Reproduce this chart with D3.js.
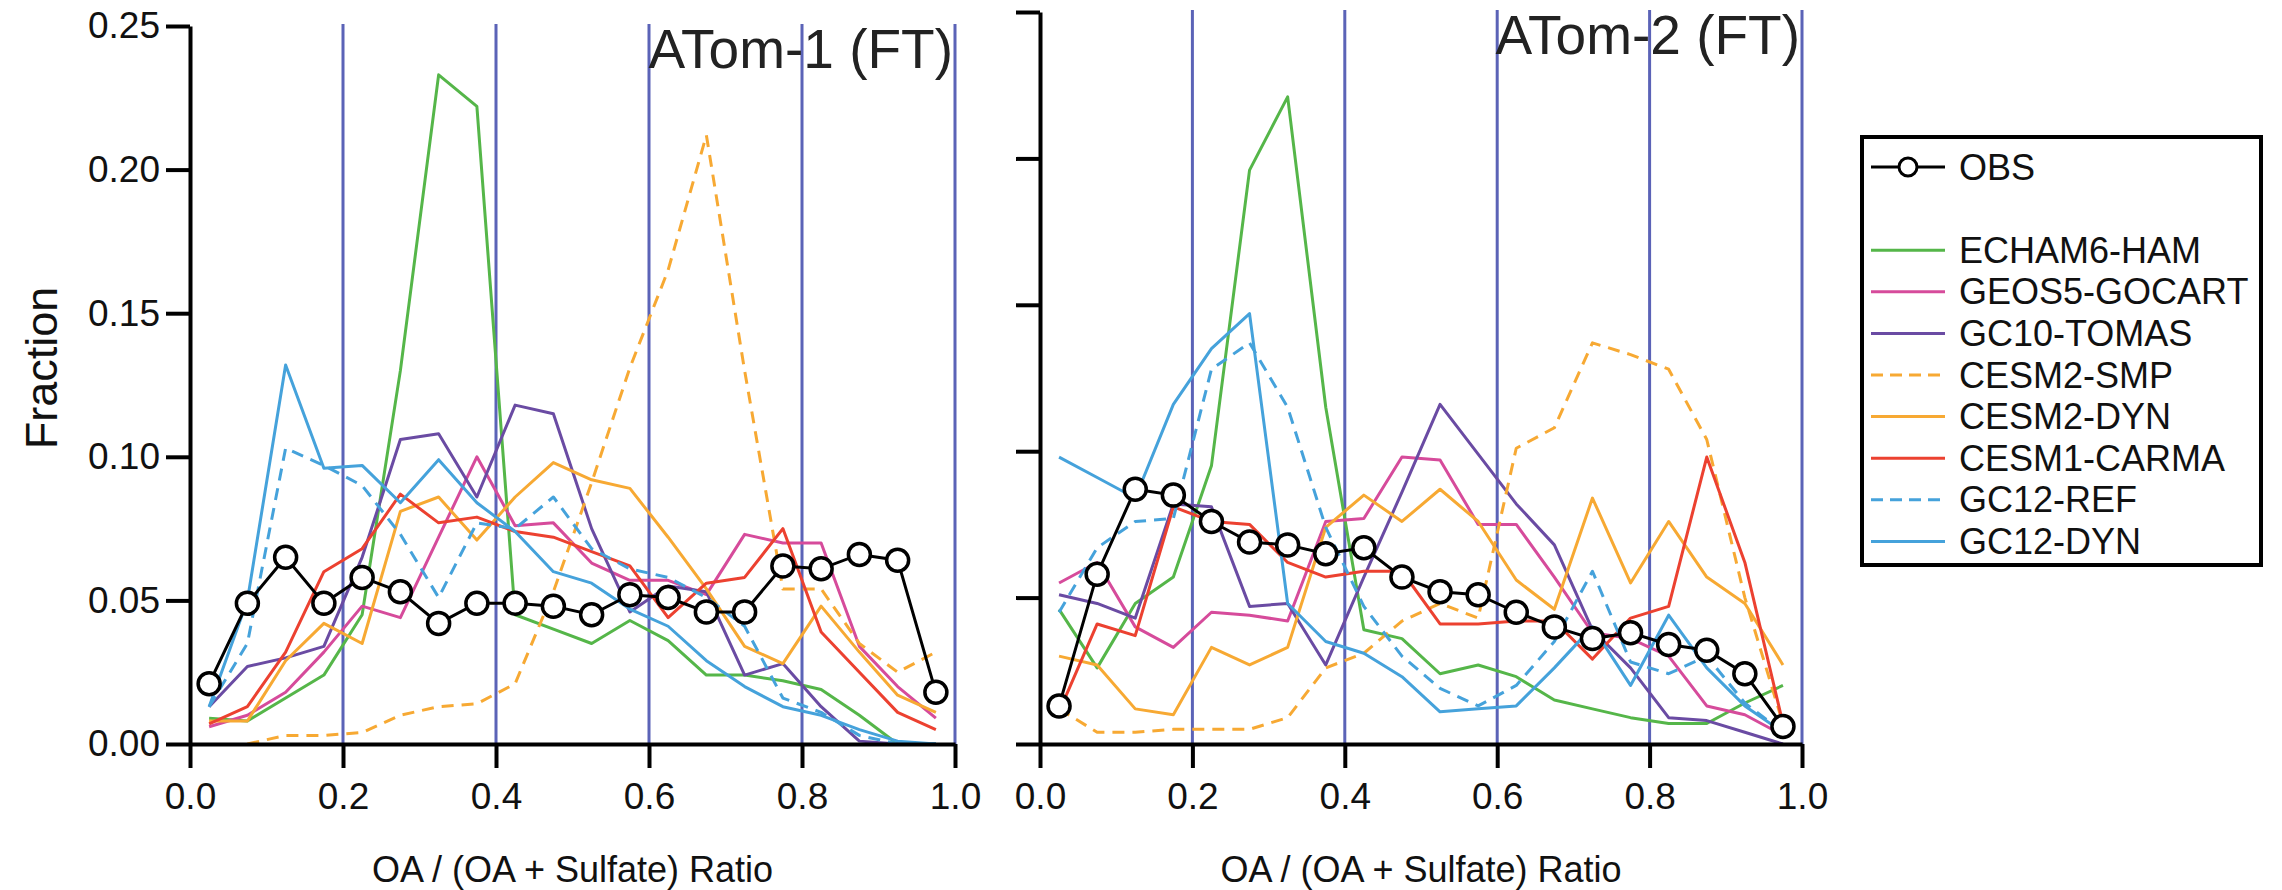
<!DOCTYPE html>
<html>
<head>
<meta charset="utf-8">
<script src="https://cdn.jsdelivr.net/npm/d3@7"></script>
<style>
  body { margin: 0; background: #fff; }
  svg { display: block; font-family: "Liberation Sans", Arial, sans-serif; }
</style>
</head>
<body>
<div id="chart"></div>
<script>
// bin centres of the OA / (OA + sulfate) ratio
const bins = [0.025, 0.075, 0.125, 0.175, 0.225, 0.275, 0.325, 0.375, 0.425, 0.475,
  0.525, 0.575, 0.625, 0.675, 0.725, 0.775, 0.825, 0.875, 0.925, 0.975];

const xTicks = [0, 0.2, 0.4, 0.6, 0.8, 1.0];
const yTicks = [0, 0.05, 0.1, 0.15, 0.2, 0.25];
const gridX = [0.2, 0.4, 0.6, 0.8, 1.0];

const modelNames = ["ECHAM6-HAM", "GEOS5-GOCART", "GC10-TOMAS", "CESM2-SMP",
  "CESM2-DYN", "CESM1-CARMA", "GC12-REF", "GC12-DYN"];

// ATom-1 (FT)
const obs1 = [0.021, 0.049, 0.065, 0.049, 0.058, 0.053, 0.042, 0.049, 0.049, 0.048,
  0.045, 0.052, 0.051, 0.046, 0.046, 0.062, 0.061, 0.066, 0.064, 0.018];
const echam1 = [0.009, 0.008, 0.016, 0.024, 0.045, 0.13, 0.233, 0.222, 0.045, 0.040,
  0.035, 0.043, 0.036, 0.024, 0.024, 0.022, 0.019, 0.010, 0.0, 0.0];
const geos1 = [0.006, 0.010, 0.018, 0.032, 0.048, 0.044, 0.072, 0.100, 0.076, 0.077,
  0.063, 0.057, 0.057, 0.052, 0.073, 0.070, 0.070, 0.034, 0.020, 0.009];
const tomas1 = [0.013, 0.027, 0.030, 0.034, 0.065, 0.106, 0.108, 0.086, 0.118, 0.115,
  0.075, 0.046, 0.055, 0.053, 0.024, 0.028, 0.013, 0.001, 0.0, 0.0];
const smp1 = [null, 0.0, 0.003, 0.003, 0.004, 0.010, 0.013, 0.014, 0.021, 0.053,
  0.091, 0.131, 0.165, 0.212, 0.13, 0.054, 0.054, 0.035, 0.025, 0.032];
const cesmDyn1 = [0.008, 0.008, 0.029, 0.042, 0.035, 0.081, 0.086, 0.071, 0.086, 0.098,
  0.092, 0.089, 0.072, 0.054, 0.034, 0.028, 0.048, 0.032, 0.017, 0.011];
const carma1 = [0.007, 0.013, 0.032, 0.060, 0.068, 0.087, 0.077, 0.079, 0.074, 0.072,
  0.067, 0.062, 0.044, 0.056, 0.058, 0.075, 0.039, 0.025, 0.011, 0.005];
const gcRef1 = [0.013, 0.035, 0.103, 0.097, 0.090, 0.073, 0.051, 0.077, 0.075, 0.086,
  0.068, 0.061, 0.058, 0.051, 0.041, 0.016, 0.011, 0.003, 0.0, 0.0];
const gcDyn1 = [0.013, 0.050, 0.132, 0.096, 0.097, 0.084, 0.099, 0.084, 0.074, 0.060,
  0.056, 0.047, 0.041, 0.029, 0.020, 0.013, 0.010, 0.005, 0.001, 0.0];

// ATom-2 (FT)
const obs2 = [0.013, 0.058, 0.087, 0.085, 0.076, 0.069, 0.068, 0.065, 0.067, 0.057,
  0.052, 0.051, 0.045, 0.040, 0.036, 0.038, 0.034, 0.032, 0.024, 0.006];
const echam2 = [0.046, 0.026, 0.048, 0.057, 0.095, 0.196, 0.221, 0.115, 0.039, 0.036,
  0.024, 0.027, 0.023, 0.015, 0.012, 0.009, 0.007, 0.007, 0.014, 0.020];
const geos2 = [0.055, 0.062, 0.040, 0.033, 0.045, 0.044, 0.042, 0.076, 0.077, 0.098,
  0.097, 0.075, 0.075, 0.057, 0.038, 0.036, 0.030, 0.013, 0.010, 0.003];
const tomas2 = [0.051, 0.048, 0.043, 0.082, 0.081, 0.047, 0.048, 0.027, 0.057, 0.086,
  0.116, 0.099, 0.082, 0.068, 0.039, 0.026, 0.009, 0.008, 0.004, 0.0];
const smp2 = [0.012, 0.004, 0.004, 0.005, 0.005, 0.005, 0.009, 0.026, 0.031, 0.042,
  0.048, 0.043, 0.101, 0.108, 0.137, 0.133, 0.128, 0.104, 0.050, 0.007];
const cesmDyn2 = [0.030, 0.027, 0.012, 0.010, 0.033, 0.027, 0.033, 0.074, 0.085, 0.076,
  0.087, 0.076, 0.056, 0.046, 0.084, 0.055, 0.076, 0.057, 0.048, 0.027];
const carma2 = [0.011, 0.041, 0.037, 0.081, 0.076, 0.075, 0.062, 0.057, 0.059, 0.059,
  0.041, 0.041, 0.042, 0.042, 0.029, 0.043, 0.047, 0.098, 0.062, 0.007];
const gcRef2 = [0.045, 0.067, 0.076, 0.077, 0.128, 0.137, 0.115, 0.074, 0.047, 0.030,
  0.019, 0.013, 0.020, 0.035, 0.059, 0.028, 0.024, 0.030, 0.014, 0.004];
const gcDyn2 = [0.098, 0.091, 0.084, 0.116, 0.135, 0.147, 0.048, 0.035, 0.031, 0.023,
  0.011, 0.012, 0.013, 0.026, 0.040, 0.020, 0.044, 0.026, 0.013, 0.004];

// styles per model (same order as modelNames)
const colors = ["#55b649", "#d64b9b", "#6a4ba3", "#f7a933", "#f7a933", "#ec4130", "#45a2db", "#45a2db"];
const dashed = [false, false, false, true, false, false, true, false];

const width = 2282, height = 890;

const svg = d3.select("#chart").append("svg")
  .attr("width", width)
  .attr("height", height);

svg.append("rect").attr("width", width).attr("height", height).attr("fill", "#fff");

const panels = [
  { left: 190, right: 955, top: 26, bottom: 744, title: "ATom-1 (FT)", labels: true,
    obs: obs1, models: [echam1, geos1, tomas1, smp1, cesmDyn1, carma1, gcRef1, gcDyn1] },
  { left: 1040, right: 1802, top: 12, bottom: 744, title: "ATom-2 (FT)", labels: false,
    obs: obs2, models: [echam2, geos2, tomas2, smp2, cesmDyn2, carma2, gcRef2, gcDyn2] }
];

panels.forEach(p => {
  const x = d3.scaleLinear().domain([0, 1]).range([p.left, p.right]);
  const y = d3.scaleLinear().domain([0, 0.25]).range([p.bottom, p.top]);
  const g = svg.append("g");

  // blue vertical lines
  g.selectAll(".grid").data(gridX).enter().append("line")
    .attr("x1", d => x(d)).attr("x2", d => x(d))
    .attr("y1", p.top - 2).attr("y2", p.bottom)
    .attr("stroke", "#5b63b7")
    .attr("stroke-width", 3);

  const line = d3.line()
    .defined(d => d != null)
    .x((d, i) => x(bins[i]))
    .y(d => y(d));

  p.models.forEach((vals, k) => {
    g.append("path")
      .datum(vals)
      .attr("d", line)
      .attr("fill", "none")
      .attr("stroke", colors[k])
      .attr("stroke-width", 3)
      .attr("stroke-linejoin", "round")
      .attr("stroke-dasharray", dashed[k] ? "12,8" : null);
  });

  // axes
  const yAxis = g.append("g")
    .attr("transform", `translate(${p.left},0)`)
    .call(d3.axisLeft(y).tickValues(yTicks).tickSize(24).tickSizeOuter(0).tickPadding(6)
      .tickFormat(p.labels ? d3.format(".2f") : () => ""));
  const xAxis = g.append("g")
    .attr("transform", `translate(0,${p.bottom})`)
    .call(d3.axisBottom(x).tickValues(xTicks).tickSize(24).tickSizeOuter(0).tickPadding(15)
      .tickFormat(d3.format(".1f")));

  [yAxis, xAxis].forEach(a => {
    a.attr("font-family", null).attr("font-size", 37);
    a.select(".domain").attr("stroke", "#000").attr("stroke-width", 4);
    a.selectAll(".tick line").attr("stroke", "#000").attr("stroke-width", 4);
    a.selectAll(".tick text").attr("fill", "#111");
  });

  // observations
  g.append("path")
    .datum(p.obs)
    .attr("d", line)
    .attr("fill", "none")
    .attr("stroke", "#000")
    .attr("stroke-width", 3);

  g.selectAll(".obs").data(p.obs).enter().append("circle")
    .attr("cx", (d, i) => x(bins[i]))
    .attr("cy", d => y(d))
    .attr("r", 11)
    .attr("fill", "#fff")
    .attr("stroke", "#000")
    .attr("stroke-width", 3.5);

  // panel title
  g.append("text")
    .attr("x", p.right - 2)
    .attr("y", p.top + 42)
    .attr("text-anchor", "end")
    .attr("font-size", 55)
    .attr("fill", "#222")
    .text(p.title);

  g.append("text")
    .attr("x", (p.left + p.right) / 2)
    .attr("y", 882)
    .attr("text-anchor", "middle")
    .attr("font-size", 36)
    .attr("fill", "#111")
    .text("OA / (OA + Sulfate) Ratio");
});

svg.append("text")
  .attr("transform", "translate(57,368) rotate(-90)")
  .attr("text-anchor", "middle")
  .attr("font-size", 45)
  .attr("fill", "#111")
  .text("Fraction");

// legend
const legend = svg.append("g");
legend.append("rect")
  .attr("x", 1862).attr("y", 137)
  .attr("width", 399).attr("height", 428)
  .attr("fill", "#fff")
  .attr("stroke", "#000")
  .attr("stroke-width", 4);

const rowY = i => 167 + i * 41.6;

legend.append("line")
  .attr("x1", 1871).attr("x2", 1945)
  .attr("y1", rowY(0)).attr("y2", rowY(0))
  .attr("stroke", "#000").attr("stroke-width", 3);
legend.append("circle")
  .attr("cx", 1908).attr("cy", rowY(0)).attr("r", 9)
  .attr("fill", "#fff").attr("stroke", "#000").attr("stroke-width", 3);
legend.append("text")
  .attr("x", 1959).attr("y", rowY(0))
  .attr("dy", "0.35em")
  .attr("font-size", 36)
  .attr("fill", "#111")
  .text("OBS");

const rows = legend.selectAll(".row").data(modelNames).enter().append("g")
  .attr("transform", (d, i) => `translate(0,${rowY(i + 2)})`);
rows.append("line")
  .attr("x1", 1871).attr("x2", 1945)
  .attr("stroke", (d, i) => colors[i])
  .attr("stroke-width", 3)
  .attr("stroke-dasharray", (d, i) => dashed[i] ? "12,7" : null);
rows.append("text")
  .attr("x", 1959)
  .attr("dy", "0.35em")
  .attr("font-size", 36)
  .attr("fill", "#111")
  .text(d => d);
</script>
</body>
</html>
